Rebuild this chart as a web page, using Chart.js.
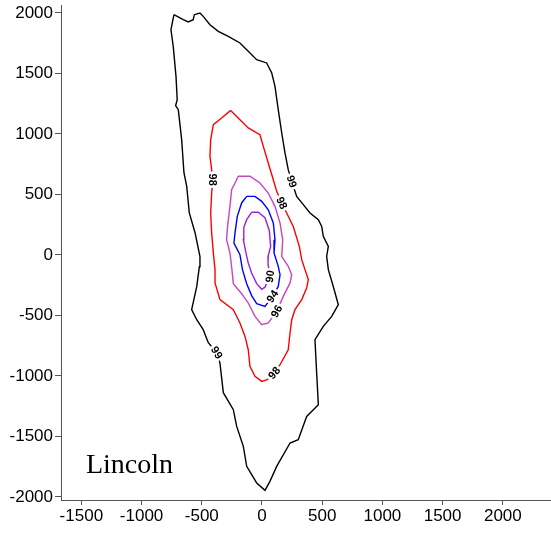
<!DOCTYPE html>
<html lang="en">
<head>
    <meta charset="UTF-8">
    <title>Lincoln contours</title>
    <script src="https://cdn.jsdelivr.net/npm/chart.js@4.4.0/dist/chart.umd.min.js"></script>
    <style>
        body { margin: 0; background: #fff; }
    </style>
</head>
<body>
    <canvas id="chart" width="551" height="533"></canvas>

    <script>
        // contour lines, [x, y] pairs
        const c99 = [[-731,1986],[-654,1945],[-612,1926],[-571,1945],[-562,1986],[-515,2000],[-488,1972],[-432,1903],
            [-363,1848],[-280,1807],[-183,1752],[-114,1683],[-44,1614],[39,1587],[81,1504],[108,1393],[135,1201],
            [164,1008],[191,843],[218,705],[247,608],[288,484],[343,416],[399,347],[468,292],[496,236],[509,154],
            [551,71],[537,-12],[551,-121],[592,-260],[634,-411],[579,-507],[509,-590],[440,-700],[454,-975],
            [468,-1237],[371,-1334],[301,-1526],[233,-1554],[122,-1747],[66,-1871],[25,-1945],[-44,-1884],
            [-127,-1747],[-155,-1582],[-210,-1417],[-238,-1279],[-321,-1138],[-349,-893],[-376,-807],[-446,-725],
            [-488,-617],[-542,-535],[-584,-452],[-542,-262],[-520,-97],[-515,-14],[-556,184],[-604,350],[-625,567],
            [-648,680],[-667,953],[-695,1201],[-717,1234],[-704,1283],[-714,1476],[-737,1724],[-756,1863]];
        const c98 = [[-260,1195],[-335,1132],[-404,1077],[-426,953],[-432,815],[-418,705],[-409,622],[-418,512],
            [-426,347],[-418,182],[-404,17],[-390,-121],[-390,-231],[-349,-369],[-238,-452],[-183,-562],[-141,-673],
            [-114,-783],[-100,-921],[-58,-1003],[-2,-1045],[44,-1031],[102,-975],[150,-907],[218,-783],[233,-645],
            [247,-535],[274,-452],[330,-369],[371,-273],[385,-204],[357,-121],[330,-39],[310,71],[260,236],
            [205,347],[164,430],[122,526],[94,622],[52,760],[11,898],[-17,994],[-114,1050],[-183,1118]];
        const c96 = [[-197,651],[-100,651],[-17,595],[52,512],[108,402],[150,264],[172,126],[164,-12],[218,-94],
            [247,-163],[233,-231],[177,-342],[122,-466],[52,-562],[-2,-576],[-58,-507],[-114,-397],[-169,-320],
            [-238,-237],[-252,-97],[-266,17],[-294,126],[-286,236],[-266,402],[-252,540],[-224,595]];
        const c94 = [[-127,484],[-58,484],[-2,443],[52,374],[94,264],[108,126],[100,17],[135,-94],[150,-163],
            [135,-260],[87,-342],[25,-425],[-44,-402],[-86,-336],[-127,-237],[-162,-121],[-183,2],[-233,99],
            [-224,182],[-205,319],[-169,430]];
        const c90 = [[-86,353],[-31,353],[25,308],[61,201],[72,71],[52,-6],[50,-72],[66,-177],[25,-266],[-2,-283],
            [-44,-237],[-86,-149],[-114,-66],[-133,17],[-155,126],[-151,226],[-127,292]];

        const levels = ['99', '98', '96', '94', '90'];
        const contours = [c99, c98, c96, c94, c90];
        const colors = ['#000000', '#ff0000', '#cc44bb', '#0000ff', '#9922dd'];
        // which vertex of each contour carries its level label
        const labelAt = [[20, 50], [6, 22, 36], [12], [10], [7]];

        const xTicks = [-1500, -1000, -500, 0, 500, 1000, 1500, 2000];
        const yTicks = [-2000, -1500, -1000, -500, 0, 500, 1000, 1500, 2000];
        const siteName = 'Lincoln';
        const sitePos = [-1462, -1799];

        const datasets = contours.map((c, i) => ({
            label: levels[i],
            data: c.concat([c[0]]).map(([x, y]) => ({ x, y })),
            showLine: true,
            borderColor: colors[i],
            borderWidth: 1.4,
            pointRadius: 0,
            tension: 0
        }));

        // level labels along the lines, plus the site name
        const labelPlugin = {
            id: 'contourLabels',
            afterDatasetsDraw(chart) {
                const ctx = chart.ctx;
                const xs = chart.scales.x, ys = chart.scales.y;
                ctx.save();
                ctx.font = 'bold 11px "Liberation Sans", Arial, sans-serif';
                ctx.textAlign = 'center';
                ctx.textBaseline = 'middle';
                contours.forEach((c, i) => {
                    labelAt[i].forEach(k => {
                        const p = c[k];
                        const a = c[(k - 1 + c.length) % c.length];
                        const b = c[(k + 1) % c.length];
                        const px = xs.getPixelForValue(p[0]), py = ys.getPixelForValue(p[1]);
                        let ang = Math.atan2(ys.getPixelForValue(b[1]) - ys.getPixelForValue(a[1]),
                            xs.getPixelForValue(b[0]) - xs.getPixelForValue(a[0]));
                        if (ang > Math.PI / 2) ang -= Math.PI;
                        if (ang < -Math.PI / 2) ang += Math.PI;
                        const w = ctx.measureText(levels[i]).width;
                        ctx.save();
                        ctx.translate(px, py);
                        ctx.rotate(ang);
                        ctx.fillStyle = '#fff';
                        ctx.fillRect(-w / 2 - 2, -5, w + 4, 10);
                        ctx.fillStyle = '#000';
                        ctx.fillText(levels[i], 0, 0.5);
                        ctx.restore();
                    });
                });
                ctx.font = '28px "Liberation Serif", "Times New Roman", serif';
                ctx.textAlign = 'left';
                ctx.textBaseline = 'alphabetic';
                ctx.fillStyle = '#000';
                ctx.fillText(siteName, xs.getPixelForValue(sitePos[0]), ys.getPixelForValue(sitePos[1]));
                ctx.restore();
            }
        };

        const tickFont = { family: '"Liberation Sans", Arial, sans-serif', size: 17 };

        new Chart(document.getElementById('chart'), {
            type: 'scatter',
            data: { datasets },
            options: {
                responsive: false,
                animation: false,
                layout: { padding: { top: 5, right: 0, left: 0, bottom: 0 } },
                plugins: { legend: { display: false }, tooltip: { enabled: false } },
                scales: {
                    x: {
                        type: 'linear',
                        min: -1669,
                        max: 2400,
                        afterBuildTicks: s => { s.ticks = xTicks.map(v => ({ value: v })); },
                        afterFit: s => { s.height = 33; s.paddingLeft = 0; s.paddingRight = 0; },
                        grid: { drawOnChartArea: false, drawTicks: true, tickLength: 5, color: '#555' },
                        border: { display: true, color: '#555', width: 1 },
                        ticks: { color: '#000', font: tickFont, padding: 1, maxRotation: 0, autoSkip: false,
                            callback: v => String(v) }
                    },
                    y: {
                        type: 'linear',
                        min: -2025,
                        max: 2066,
                        afterBuildTicks: s => { s.ticks = yTicks.map(v => ({ value: v })); },
                        afterFit: s => { s.width = 61; s.paddingTop = 0; s.paddingBottom = 0; },
                        grid: { drawOnChartArea: false, drawTicks: true, tickLength: 6, color: '#555' },
                        border: { display: true, color: '#555', width: 1 },
                        ticks: { color: '#000', font: tickFont, padding: 2, autoSkip: false,
                            callback: v => String(v) }
                    }
                }
            },
            plugins: [labelPlugin]
        });
    </script>
</body>
</html>
